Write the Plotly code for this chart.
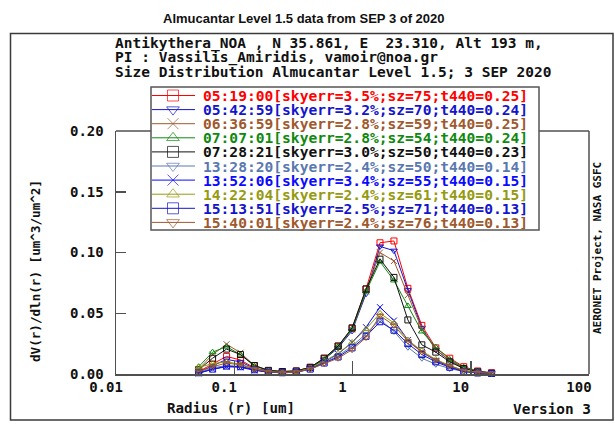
import plotly.graph_objects as go

# ---------------- data ----------------
radius = [0.050, 0.0656, 0.0861, 0.1129, 0.1482, 0.1944, 0.2551, 0.3347, 0.4392, 0.5762, 0.7561,
          0.9921, 1.3017, 1.7080, 2.2411, 2.9405, 3.8584, 5.0627, 6.6430, 8.7164, 11.4371, 15.0000]

labels = [
    "05:19:00[skyerr=3.5%;sz=75;t440=0.25]",
    "05:42:59[skyerr=3.2%;sz=70;t440=0.24]",
    "06:36:59[skyerr=2.8%;sz=59;t440=0.25]",
    "07:07:01[skyerr=2.8%;sz=54;t440=0.24]",
    "07:28:21[skyerr=3.0%;sz=50;t440=0.23]",
    "13:28:20[skyerr=2.4%;sz=50;t440=0.14]",
    "13:52:06[skyerr=3.4%;sz=55;t440=0.15]",
    "14:22:04[skyerr=2.4%;sz=61;t440=0.15]",
    "15:13:51[skyerr=2.5%;sz=71;t440=0.13]",
    "15:40:01[skyerr=2.4%;sz=76;t440=0.13]",
]

s0519 = [0.0020, 0.0080, 0.0145, 0.0115, 0.0050, 0.0025, 0.0020, 0.0025, 0.0055, 0.0130, 0.0230,
         0.0375, 0.0700, 0.1080, 0.1095, 0.0705, 0.0400, 0.0215, 0.0130, 0.0060, 0.0025, 0.0010]
s0542 = [0.0015, 0.0065, 0.0120, 0.0100, 0.0045, 0.0022, 0.0018, 0.0022, 0.0050, 0.0120, 0.0215,
         0.0355, 0.0660, 0.1050, 0.1015, 0.0690, 0.0380, 0.0200, 0.0110, 0.0050, 0.0020, 0.0008]
s0636 = [0.0040, 0.0160, 0.0245, 0.0175, 0.0070, 0.0030, 0.0020, 0.0025, 0.0055, 0.0125, 0.0225,
         0.0365, 0.0680, 0.1000, 0.0930, 0.0650, 0.0370, 0.0200, 0.0110, 0.0050, 0.0020, 0.0008]
s0707 = [0.0060, 0.0180, 0.0225, 0.0160, 0.0065, 0.0030, 0.0020, 0.0022, 0.0050, 0.0120, 0.0225,
         0.0370, 0.0680, 0.0925, 0.0770, 0.0560, 0.0350, 0.0220, 0.0120, 0.0055, 0.0022, 0.0008]
s0728 = [0.0035, 0.0130, 0.0205, 0.0160, 0.0070, 0.0030, 0.0020, 0.0025, 0.0055, 0.0130, 0.0230,
         0.0380, 0.0700, 0.0945, 0.0795, 0.0445, 0.0240, 0.0180, 0.0100, 0.0045, 0.0018, 0.0007]
s1328 = [0.0010, 0.0050, 0.0070, 0.0060, 0.0035, 0.0015, 0.0010, 0.0015, 0.0040, 0.0090, 0.0150,
         0.0230, 0.0330, 0.0450, 0.0350, 0.0220, 0.0130, 0.0080, 0.0045, 0.0020, 0.0008, 0.0003]
s1352 = [0.0005, 0.0040, 0.0060, 0.0055, 0.0030, 0.0015, 0.0010, 0.0015, 0.0045, 0.0100, 0.0165,
         0.0260, 0.0385, 0.0550, 0.0440, 0.0280, 0.0180, 0.0110, 0.0060, 0.0025, 0.0010, 0.0004]
s1422 = [0.0055, 0.0085, 0.0100, 0.0080, 0.0045, 0.0020, 0.0012, 0.0018, 0.0048, 0.0105, 0.0170,
         0.0260, 0.0370, 0.0500, 0.0420, 0.0280, 0.0190, 0.0120, 0.0070, 0.0030, 0.0012, 0.0005]
s1513 = [0.0010, 0.0040, 0.0065, 0.0060, 0.0035, 0.0015, 0.0010, 0.0015, 0.0040, 0.0090, 0.0140,
         0.0215, 0.0310, 0.0430, 0.0360, 0.0250, 0.0160, 0.0100, 0.0055, 0.0020, 0.0008, 0.0004]
s1540 = [0.0020, 0.0060, 0.0090, 0.0075, 0.0040, 0.0018, 0.0012, 0.0015, 0.0040, 0.0085, 0.0130,
         0.0200, 0.0300, 0.0480, 0.0400, 0.0270, 0.0180, 0.0115, 0.0065, 0.0028, 0.0012, 0.0005]

series = [s0519, s0542, s0636, s0707, s0728, s1328, s1352, s1422, s1513, s1540]
colors = ["#ff0000", "#1414cc", "#a0582d", "#0f8a0f", "#111111",
          "#5a78b0", "#0a0aff", "#959a10", "#1414cc", "#a0582d"]
symbols = ["square-open", "triangle-down-open", "x-thin-open", "triangle-up-open", "square-open",
           "triangle-down-open", "x-thin-open", "triangle-up-open", "square-open", "triangle-down-open"]

x_tickvals = [0.01, 0.1, 1, 10, 100]
x_ticktext = ["0.01", "0.1", "1", "10", "100"]
y_tickvals = [0.0, 0.05, 0.10, 0.15, 0.20]
y_ticktext = ["0.00", "0.05", "0.10", "0.15", "0.20"]

header = ["Antikythera_NOA , N 35.861, E  23.310, Alt 193 m,",
          "PI : Vassilis_Amiridis, vamoir@noa.gr",
          "Size Distribution Almucantar Level 1.5; 3 SEP 2020"]

# ---------------- layout constants (pixels) ----------------
W, H = 615, 427
PL, PR, PT, PB = 116, 589, 131, 374
AX = "#505050"
MONO = "DejaVu Sans Mono"

def px(x):
    return x / W

def py(y):
    return 1 - y / H

fig = go.Figure()

for vals, col, sym in zip(series, colors, symbols):
    fig.add_trace(go.Scatter(
        x=radius, y=vals, mode="lines+markers", xaxis="x", yaxis="y",
        line=dict(color=col, width=1),
        marker=dict(symbol=sym, size=6, color=col, line=dict(width=1, color=col)),
        cliponaxis=False, showlegend=False, hoverinfo="skip"))

# legend samples (pixel overlay axes)
LEG_X0, LEG_XM, LEG_X1, LEG_TXT = 152, 173, 195, 203
LEG_TOP, LEG_DY = 95.5, 14.1
for i, (lab, col, sym) in enumerate(zip(labels, colors, symbols)):
    yy = LEG_TOP + i * LEG_DY
    fig.add_trace(go.Scatter(
        x=[LEG_X0, LEG_XM, LEG_X1], y=[yy, yy, yy], mode="lines+markers",
        xaxis="x2", yaxis="y2",
        line=dict(color=col, width=1),
        marker=dict(symbol=sym, size=[0, 11, 0], color=col, line=dict(width=1, color=col)),
        cliponaxis=False, showlegend=False, hoverinfo="skip"))

annotations = []
def txt(x, y, s, size=14, color="#111111", xanchor="left", angle=0, family=MONO, weight="bold"):
    annotations.append(dict(x=px(x), y=py(y), xref="paper", yref="paper", text=s, showarrow=False,
                            xanchor=xanchor, yanchor="middle", textangle=angle,
                            font=dict(family=family, size=size, color=color, weight=weight)))

txt(304, 18, "Almucantar Level 1.5 data from SEP 3 of 2020", size=13, xanchor="center",
    family="Liberation Sans, Arial, sans-serif")
for k, line in enumerate(header):
    txt(113, 43 + k * 14.3, line, size=14.5)
for i, lab in enumerate(labels):
    txt(LEG_TXT - 2, LEG_TOP + i * LEG_DY, lab, size=14.6, color=colors[i])
txt(35, 271, "dV(r)/dln(r) [um^3/um^2]", size=12.6, xanchor="center", angle=-90)
txt(231, 408, "Radius (r) [um]", size=14.2, xanchor="center")
txt(593, 409, "Version 3", size=14.4, xanchor="right")
txt(597, 248, "AERONET Project, NASA GSFC", size=11, xanchor="center", angle=-90)

def seg(x0, y0, x1, y1, color=AX, width=1.5, kind="line"):
    return dict(type=kind, xref="paper", yref="paper", x0=px(x0), x1=px(x1), y0=py(y0), y1=py(y1),
                line=dict(color=color, width=width))

shapes = [
    seg(10.5, 33.5, 613, 420, color="#3a3a3a", kind="rect"),
    seg(PR, PT, PR, PB),
    seg(PL, PT, 151, PT),
    seg(539, PT, PR, PT),
    seg(151, 87, 539, 230, color="#555555", kind="rect"),
]

tickfont = dict(family=MONO, size=14, color="#111111", weight="bold")
fig.update_layout(
    template="none",
    width=W, height=H, margin=dict(l=0, r=0, t=0, b=0, pad=0, autoexpand=False),
    paper_bgcolor="white", plot_bgcolor="rgba(0,0,0,0)",
    showlegend=False,
    xaxis=dict(type="log", range=[-2, 2], domain=[PL / W, PR / W], anchor="y",
               showline=True, linecolor=AX, linewidth=1.5, mirror=False,
               ticks="inside", ticklen=13, tickwidth=1.5, tickcolor=AX,
               tickvals=x_tickvals, ticktext=x_ticktext, tickfont=tickfont,
               ticklabelshift=-10, ticklabelstandoff=0, automargin=False,
               showgrid=False, zeroline=False, fixedrange=True),
    yaxis=dict(range=[0, 0.2], domain=[(H - PB) / H, (H - PT) / H], anchor="x",
               showline=True, linecolor=AX, linewidth=1.5, mirror=False,
               ticks="inside", ticklen=10, tickwidth=1.5, tickcolor=AX,
               tickvals=y_tickvals, ticktext=y_ticktext, tickfont=tickfont,
               ticklabelstandoff=8, automargin=False,
               showgrid=False, zeroline=False, fixedrange=True),
    xaxis2=dict(domain=[0, 1], range=[0, W], anchor="y2", visible=False, fixedrange=True,
                automargin=False),
    yaxis2=dict(domain=[0, 1], range=[H, 0], anchor="x2", visible=False, fixedrange=True,
                automargin=False),
    annotations=annotations, shapes=shapes,
)

fig.write_html("out.html", config={"displayModeBar": False, "staticPlot": True},
               post_script="document.body.style.margin='0px';")
